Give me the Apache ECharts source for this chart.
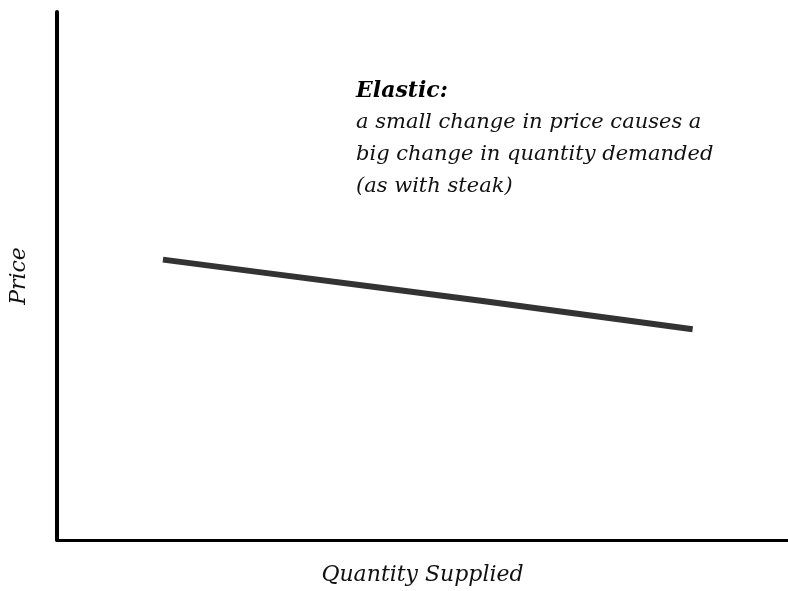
<!DOCTYPE html>
<html>
<head>
<meta charset="utf-8">
<script src="https://cdn.jsdelivr.net/npm/echarts@6/dist/echarts.min.js"></script>
<style>html,body{margin:0;padding:0;background:#fff}#c{width:788px;height:591px}</style>
</head>
<body>
<div id="c"></div>
<script>
var quantity = [1, 2, 3, 4, 5, 6];
var price = [5.31, 5.05, 4.79, 4.53, 4.26, 3.99];
var xName = 'Quantity Supplied';
var yName = 'Price';
var noteTitle = 'Elastic:';
var noteLines = ['a small change in price causes a', 'big change in quantity demanded', '(as with steak)'];

var FONT = '"DejaVu Serif", serif';
var chart = echarts.init(document.getElementById('c'), null, {renderer: 'canvas'});
chart.setOption({
  animation: false,
  grid: {left: 54, top: 12, right: 0, bottom: 42, containLabel: false},
  xAxis: {
    type: 'value', min: 0, max: 6.9,
    name: xName, nameLocation: 'middle', nameGap: 24,
    nameTextStyle: {fontFamily: FONT, fontStyle: 'italic', fontSize: 22, color: '#111'},
    axisLine: {show: true, onZero: false, lineStyle: {color: '#000', width: 3}},
    axisTick: {show: false}, axisLabel: {show: false}, splitLine: {show: false}
  },
  yAxis: {
    type: 'value', min: 0, max: 10,
    name: yName, nameLocation: 'middle', nameGap: 27, nameRotate: 90,
    nameTextStyle: {fontFamily: FONT, fontStyle: 'italic', fontSize: 22, color: '#111'},
    axisLine: {show: true, onZero: false, lineStyle: {color: '#000', width: 4}},
    axisTick: {show: false}, axisLabel: {show: false}, splitLine: {show: false}
  },
  series: [{
    type: 'line',
    data: quantity.map(function (q, i) { return [q, price[i]]; }),
    symbol: 'none',
    lineStyle: {color: '#333', width: 6, cap: 'butt'}
  }],
  graphic: [{
    type: 'text', left: 356, top: 80,
    style: {
      text: '{b|' + noteTitle + '}\n' + noteLines.map(function (l) { return '{n|' + l + '}'; }).join('\n'),
      rich: {
        b: {fontFamily: FONT, fontStyle: 'italic', fontWeight: 'bold', fontSize: 22, lineHeight: 32, fill: '#000'},
        n: {fontFamily: FONT, fontStyle: 'italic', fontSize: 21, lineHeight: 32, fill: '#111'}
      }
    }
  }]
});
</script>
</body>
</html>
